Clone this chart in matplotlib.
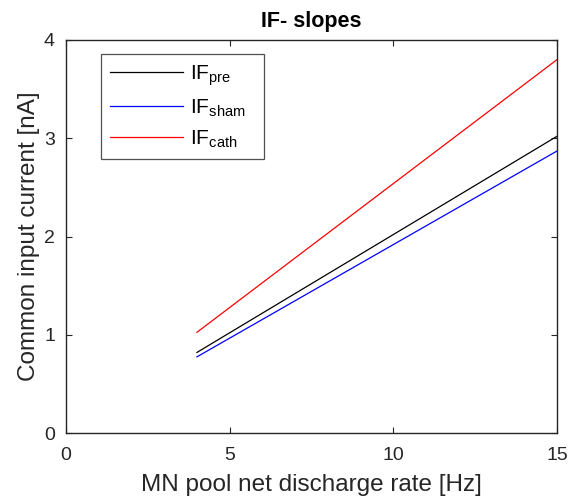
import matplotlib.pyplot as plt

plt.rcParams['font.family'] = ['Liberation Sans', 'DejaVu Sans']

# line end points, x in Hz, y in nA
rate = [4, 15]
if_pre = [0.82, 3.02]
if_sham = [0.775, 2.87]
if_cath = [1.025, 3.80]

fig = plt.figure(figsize=(5.7, 4.98), dpi=100)
ax = fig.add_axes([0.1158, 0.1305, 0.8614, 0.7892])

ax.plot(rate, if_pre, color='black', lw=0.9, label=r'IF$_{\mathregular{pre}}$')
ax.plot(rate, if_sham, color='blue', lw=0.9, label=r'IF$_{\mathregular{sham}}$')
ax.plot(rate, if_cath, color='red', lw=0.9, label=r'IF$_{\mathregular{cath}}$')

ax.set_xlim(0, 15)
ax.set_ylim(0, 4)
ax.set_xticks([0, 5, 10, 15])
ax.set_yticks([0, 1, 2, 3, 4])
ax.tick_params(direction='in', top=True, right=True, labelsize=14,
               colors='#262626', length=4, width=0.8)
ax.tick_params(axis='x', pad=10)
ax.tick_params(axis='y', pad=8)
for s in ax.spines.values():
    s.set_color('#262626')
    s.set_linewidth(1.0)

ax.set_xlabel('MN pool net discharge rate [Hz]', fontsize=17.5, color='#262626', labelpad=7)
ax.set_ylabel('Common input current [nA]', fontsize=17.5, color='#262626', labelpad=3)
ax.set_title('IF- slopes', fontsize=15.5, fontweight='bold', color='black', pad=9)

leg = ax.legend(loc='upper left', bbox_to_anchor=(0.0713, 0.9544, 0.332, 0.01),
                mode='expand', fontsize=15,
                frameon=True, fancybox=False, edgecolor='#262626',
                handlelength=3.5, handletextpad=0.3, borderpad=0.45,
                labelspacing=0.45, borderaxespad=0)
leg.get_frame().set_linewidth(0.9)

fig.savefig('out.png', dpi=100)
